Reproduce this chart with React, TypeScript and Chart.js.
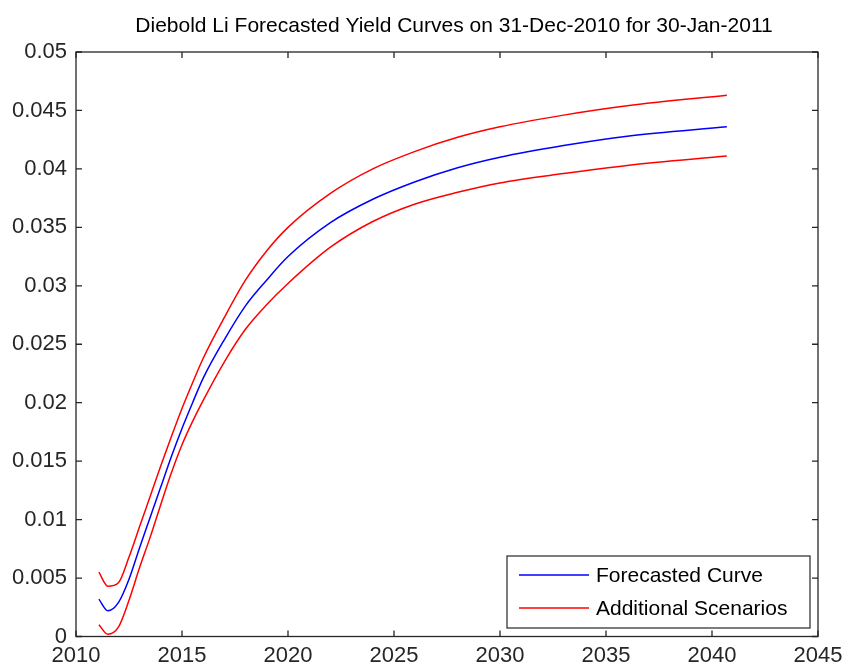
import React, { useEffect, useRef } from "react";
import { Chart, registerables } from "chart.js";

Chart.register(...registerables);

const TITLE = "Diebold Li Forecasted Yield Curves on 31-Dec-2010 for 30-Jan-2011";
const SERIES_LABELS = ["Forecasted Curve", "Additional Scenarios"];

const YEARS = [
  2011.08, 2011.5, 2012, 2012.5, 2013, 2013.5, 2014, 2014.5, 2015, 2015.5, 2016, 2017, 2018, 2019, 2020,
  2022, 2024, 2026, 2028, 2030, 2033, 2036, 2040.7,
];
const FORECAST = [
  0.0032, 0.0022, 0.0029, 0.0049, 0.0076, 0.0102, 0.0128, 0.0154, 0.0178, 0.02, 0.0221, 0.0254, 0.0283,
  0.0305, 0.0325, 0.0354, 0.0374, 0.0389, 0.0401, 0.041, 0.042, 0.0428, 0.0436,
];
const UPPER = [
  0.0055, 0.0043, 0.0046, 0.0068, 0.0094, 0.012, 0.0146, 0.0171, 0.0195, 0.0217, 0.0238, 0.0273, 0.0305,
  0.033, 0.035, 0.0379, 0.04, 0.0415, 0.0427, 0.0436, 0.0446, 0.0454, 0.0463,
];
const LOWER = [
  0.001, 0.0002, 0.0008, 0.0031, 0.0059, 0.0085, 0.0113, 0.014, 0.0164, 0.0184, 0.0202, 0.0235, 0.0263,
  0.0284, 0.0302, 0.0333, 0.0355, 0.037, 0.038, 0.0388, 0.0396, 0.0403, 0.0411,
];

const X_TICKS = [2010, 2015, 2020, 2025, 2030, 2035, 2040, 2045];
const Y_TICKS = [0, 0.005, 0.01, 0.015, 0.02, 0.025, 0.03, 0.035, 0.04, 0.045, 0.05];

const FONT = "'Liberation Sans', Arial, sans-serif";
const AXIS_COLOR = "#262626";

const toPoints = (ys: number[]) => YEARS.map((x, i) => ({ x, y: ys[i] }));

const boxPlugin = {
  id: "matlabBox",
  afterDraw(chart: any) {
    const { ctx, chartArea: a, scales } = chart;
    const xs = scales.x;
    const ys = scales.y;
    ctx.save();
    ctx.strokeStyle = AXIS_COLOR;
    ctx.lineWidth = 1.3;
    const TL = 6;
    ctx.beginPath();
    xs.ticks.forEach((t: any) => {
      const px = xs.getPixelForValue(t.value);
      ctx.moveTo(px, a.bottom);
      ctx.lineTo(px, a.bottom - TL);
      ctx.moveTo(px, a.top);
      ctx.lineTo(px, a.top + TL);
    });
    ys.ticks.forEach((t: any) => {
      const py = ys.getPixelForValue(t.value);
      ctx.moveTo(a.left, py);
      ctx.lineTo(a.left + TL, py);
      ctx.moveTo(a.right, py);
      ctx.lineTo(a.right - TL, py);
    });
    ctx.stroke();
    ctx.strokeRect(a.left, a.top, a.right - a.left, a.bottom - a.top);

    // legend
    const ds = chart.data.datasets;
    const bw = 303;
    const bh = 72;
    const bx = a.right - 8 - bw;
    const by = a.bottom - 8.5 - bh;
    ctx.fillStyle = "#ffffff";
    ctx.fillRect(bx, by, bw, bh);
    ctx.lineWidth = 1.2;
    ctx.strokeRect(bx, by, bw, bh);
    ctx.font = `21px ${FONT}`;
    ctx.textAlign = "left";
    ctx.textBaseline = "middle";
    [0, 1].forEach((i) => {
      const yy = by + 19 + i * 33;
      ctx.strokeStyle = ds[i].borderColor;
      ctx.lineWidth = 1.5;
      ctx.beginPath();
      ctx.moveTo(bx + 12, yy);
      ctx.lineTo(bx + 82, yy);
      ctx.stroke();
      ctx.fillStyle = "#000000";
      ctx.fillText(SERIES_LABELS[i], bx + 89, yy + 1);
    });

    // title
    ctx.font = `21px ${FONT}`;
    ctx.fillStyle = "#000000";
    ctx.textAlign = "center";
    ctx.textBaseline = "middle";
    ctx.fillText(TITLE, (a.left + a.right) / 2 + 7, 26);
    ctx.restore();
  },
};

export default function App() {
  const ref = useRef<HTMLCanvasElement | null>(null);
  useEffect(() => {
    if (!ref.current) return;
    const common = {
      borderWidth: 1.5,
      pointRadius: 0,
      cubicInterpolationMode: "monotone" as const,
      fill: false,
    };
    const chart = new Chart(ref.current, {
      type: "line",
      data: {
        datasets: [
          { label: SERIES_LABELS[0], data: toPoints(FORECAST), borderColor: "#0000ff", ...common },
          { label: SERIES_LABELS[1], data: toPoints(UPPER), borderColor: "#ff0000", ...common },
          { label: SERIES_LABELS[1] + " (lower)", data: toPoints(LOWER), borderColor: "#ff0000", ...common },
        ],
      },
      options: {
        animation: false,
        responsive: false,
        devicePixelRatio: 1,
        layout: { padding: { top: 52, right: 26, left: 0, bottom: 0 } },
        plugins: {
          legend: { display: false },
          title: { display: false },
          tooltip: { enabled: false },
        },
        scales: {
          x: {
            type: "linear",
            min: 2010,
            max: 2045,
            afterBuildTicks: (s: any) => {
              s.ticks = X_TICKS.map((v) => ({ value: v }));
            },
            afterFit: (s: any) => {
              s.height = 30.5;
              s.paddingLeft = 0;
              s.paddingRight = 0;
            },
            grid: { display: false, drawTicks: false },
            border: { display: false },
            ticks: {
              padding: 6,
              maxRotation: 0,
              autoSkip: false,
              color: AXIS_COLOR,
              font: { family: FONT, size: 22 },
              callback: (v: any) => String(v),
            },
          },
          y: {
            type: "linear",
            min: 0,
            max: 0.05,
            afterBuildTicks: (s: any) => {
              s.ticks = Y_TICKS.map((v) => ({ value: v }));
            },
            afterFit: (s: any) => {
              s.width = 76;
              s.paddingTop = 0;
              s.paddingBottom = 0;
            },
            grid: { display: false, drawTicks: false },
            border: { display: false },
            ticks: {
              padding: 9,
              autoSkip: false,
              color: AXIS_COLOR,
              font: { family: FONT, size: 22 },
              callback: (v: any) => (v === 0 ? "0" : String(parseFloat(Number(v).toFixed(3)))),
            },
          },
        },
      },
      plugins: [boxPlugin],
    });
    return () => chart.destroy();
  }, []);
  return (
    <div style={{ position: "fixed", left: 0, top: 0, width: 844, height: 667, background: "#ffffff" }}>
      <canvas ref={ref} width={844} height={667} style={{ width: 844, height: 667, display: "block" }} />
    </div>
  );
}
